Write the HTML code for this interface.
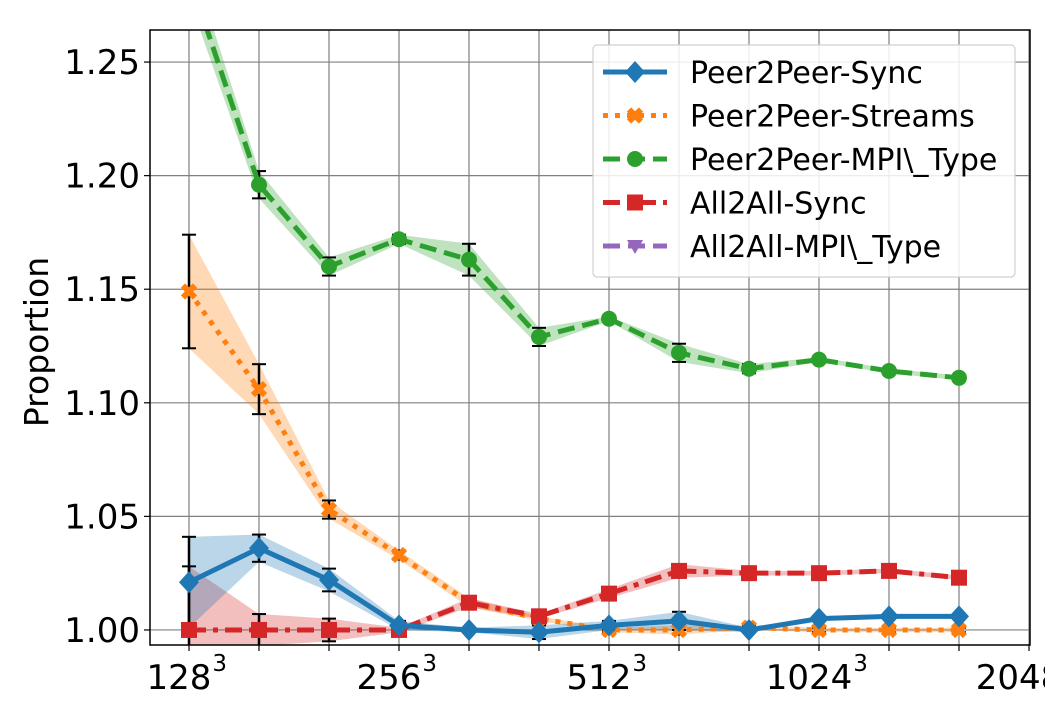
<!DOCTYPE html>
<html><head><meta charset="utf-8"><style>
html,body{margin:0;padding:0;background:#fff;}
svg{display:block;font-family:"DejaVu Sans","Liberation Sans",sans-serif;}
</style></head><body>
<svg id="chart" width="1045" height="706" viewBox="0 0 1045 706"></svg>
<script>
const categories = ["128³","","","256³","","","512³","","","1024³","","","2048³"];
const xTickLabels = ["128","256","512","1024","2048"];
const yTicks = [1.00,1.05,1.10,1.15,1.20,1.25];
const seriesNames = ["Peer2Peer-Sync","Peer2Peer-Streams","Peer2Peer-MPI\\_Type","All2All-Sync","All2All-MPI\\_Type"];
const syncVals = [1.021,1.036,1.022,1.002,1.000,0.999,1.002,1.004,1.000,1.005,1.006,1.006];
const syncErr  = [0.020,0.006,0.005,0.002,0.001,0.003,0.002,0.004,0.001,0.001,0.001,0.001];
const streamVals = [1.149,1.106,1.053,1.033,1.012,1.005,1.000,1.000,1.001,1.000,1.000,1.000];
const streamErr  = [0.025,0.011,0.004,0.002,0.002,0.001,0.001,0.002,0.001,0.001,0.001,0.001];
const mpiVals = [1.288,1.196,1.160,1.172,1.163,1.129,1.137,1.122,1.115,1.119,1.114,1.111];
const mpiErr  = [0.010,0.006,0.004,0.002,0.007,0.004,0.001,0.004,0.002,0.001,0.001,0.001];
const a2aVals = [1.000,1.000,1.000,1.000,1.012,1.006,1.016,1.026,1.025,1.025,1.026,1.023];
const a2aErr  = [0.028,0.007,0.005,0.001,0.002,0.001,0.002,0.003,0.001,0.001,0.001,0.001];

const NS="http://www.w3.org/2000/svg";
const svg=document.getElementById('chart');
const L=150,R=1030,T=30,B=645;
const yMin=0.99338,yMax=1.26411;
function X(i){return 189+i*70;}
function Y(v){return B-(v-yMin)/(yMax-yMin)*(B-T);}
function el(tag,attrs,parent){const e=document.createElementNS(NS,tag);for(const k in attrs)e.setAttribute(k,attrs[k]);(parent||svg).appendChild(e);return e;}

const defs=el('defs',{});
const cp=el('clipPath',{id:'clip'},defs);
el('rect',{x:L,y:T,width:R-L,height:B-T},cp);

const grid=el('g',{});


for(let i=0;i<13;i++){const x=X(i);if(x>R)continue;el('line',{x1:x,x2:x,y1:T,y2:B,stroke:'#808080','stroke-width':1.2},grid);}
yTicks.forEach(v=>{el('line',{x1:L,x2:R,y1:Y(v),y2:Y(v),stroke:'#808080','stroke-width':1.2},grid);});

const plot=el('g',{'clip-path':'url(#clip)'});



function band(vals,err,color,name){
  let pts=vals.map((v,i)=>X(i)+','+Y(v+err[i]));
  let pts2=vals.map((v,i)=>X(i)+','+Y(v-err[i])).reverse();
  const p=el('polygon',{points:pts.concat(pts2).join(' '),fill:color,'fill-opacity':0.3},plot);
  
  
}
function errbars(vals,err,name){
  const g=el('g',{stroke:'#000','stroke-width':2},plot);
  
  
  vals.forEach((v,i)=>{const x=X(i),y1=Y(v+err[i]),y2=Y(v-err[i]);
    el('line',{x1:x,x2:x,y1:y1,y2:y2,'stroke-width':2.5},g);
    el('line',{x1:x-7,x2:x+7,y1:y1,y2:y1},g);
    el('line',{x1:x-7,x2:x+7,y1:y2,y2:y2},g);});
}
function marker(g,type,x,y,c){
  if(type==='D')el('polygon',{points:`${x},${y-11} ${x+10},${y} ${x},${y+11} ${x-10},${y}`,fill:c},g);
  else if(type==='o')el('circle',{cx:x,cy:y,r:8,fill:c},g);
  else if(type==='s')el('rect',{x:x-8,y:y-8,width:16,height:16,fill:c},g);
  else if(type==='X'){el('path',{d:`M${x-6},${y-6}L${x+6},${y+6}M${x+6},${y-6}L${x-6},${y+6}`,stroke:c,'stroke-width':6},g);}
  else if(type==='v')el('polygon',{points:`${x-8},${y-6} ${x+8},${y-6} ${x},${y+8}`,fill:c},g);
}
function line(vals,color,dash,mk,name){
  const g=el('g',{},plot);
  
  
  el('polyline',{points:vals.map((v,i)=>X(i)+','+Y(v)).join(' '),fill:'none',stroke:color,'stroke-width':5,'stroke-dasharray':dash},g);
  vals.forEach((v,i)=>marker(g,mk,X(i),Y(v),color));
}
const series=[
 [mpiVals,mpiErr,'#2ca02c','17,8','o','peer2peer-mpi-type'],
 [streamVals,streamErr,'#ff7f0e','5,7','X','peer2peer-streams'],
 [a2aVals,a2aErr,'#d62728','17,7,5,7','s','all2all-sync'],
 [syncVals,syncErr,'#1f77b4','','D','peer2peer-sync']];
series.forEach(s=>band(s[0],s[1],s[2],s[5]));
series.forEach(s=>errbars(s[0],s[1],s[5]));
series.forEach(s=>line(s[0],s[2],s[3],s[4],s[5]));

// axes
el('rect',{x:L,y:T,width:R-L,height:B-T,fill:'none',stroke:'#000','stroke-width':1.5});
yTicks.forEach(v=>{const y=Y(v);el('line',{x1:L-6,x2:L,y1:y,y2:y,stroke:'#000','stroke-width':1.2});
  const t=el('text',{x:L-10,y:y+12,'text-anchor':'end','font-size':34,fill:'#000'});t.textContent=v.toFixed(2);
  
  });
for(let i=0;i<13;i++){const x=X(i);if(x<=R+1)el('line',{x1:x,x2:x,y1:B,y2:B+6,stroke:'#000','stroke-width':1.2});}
xTickLabels.forEach((lab,k)=>{const x=X(k*3);
  const w=lab.length*21.6;
  const t=el('text',{x:x-10,y:B+44,'text-anchor':'middle','font-size':34,fill:'#000'});t.textContent=lab;
  
  
  const s=el('text',{x:x-10+w/2+1,y:B+26,'font-size':23,fill:'#000'});s.textContent='3';});
const yl=el('text',{x:0,y:0,transform:'translate(48,342) rotate(-90)','text-anchor':'middle','font-size':33,fill:'#000'});
yl.textContent='Proportion';



// legend
const lg=el('g',{});


el('rect',{x:593,y:45,width:422,height:232,rx:4,fill:'#fff','fill-opacity':0.85,stroke:'#d0d0d0','stroke-width':1.2},lg);
const legCol=['#1f77b4','#ff7f0e','#2ca02c','#d62728','#9467bd'];
const legDash=['','5,7','17,8','17,7,5,7','17,8'];
const legMk=['D','X','o','s','v'];
seriesNames.forEach((n,i)=>{const y=72+i*43.5;
  const g=el('g',{},lg);
  
  
  el('line',{x1:603,x2:667,y1:y,y2:y,stroke:legCol[i],'stroke-width':5,'stroke-dasharray':legDash[i]},g);
  marker(g,legMk[i],635,y,legCol[i]);
  const t=el('text',{x:690,y:y+11,'font-size':30,fill:'#000'},g);t.textContent=n;});
</script>
</body></html>
